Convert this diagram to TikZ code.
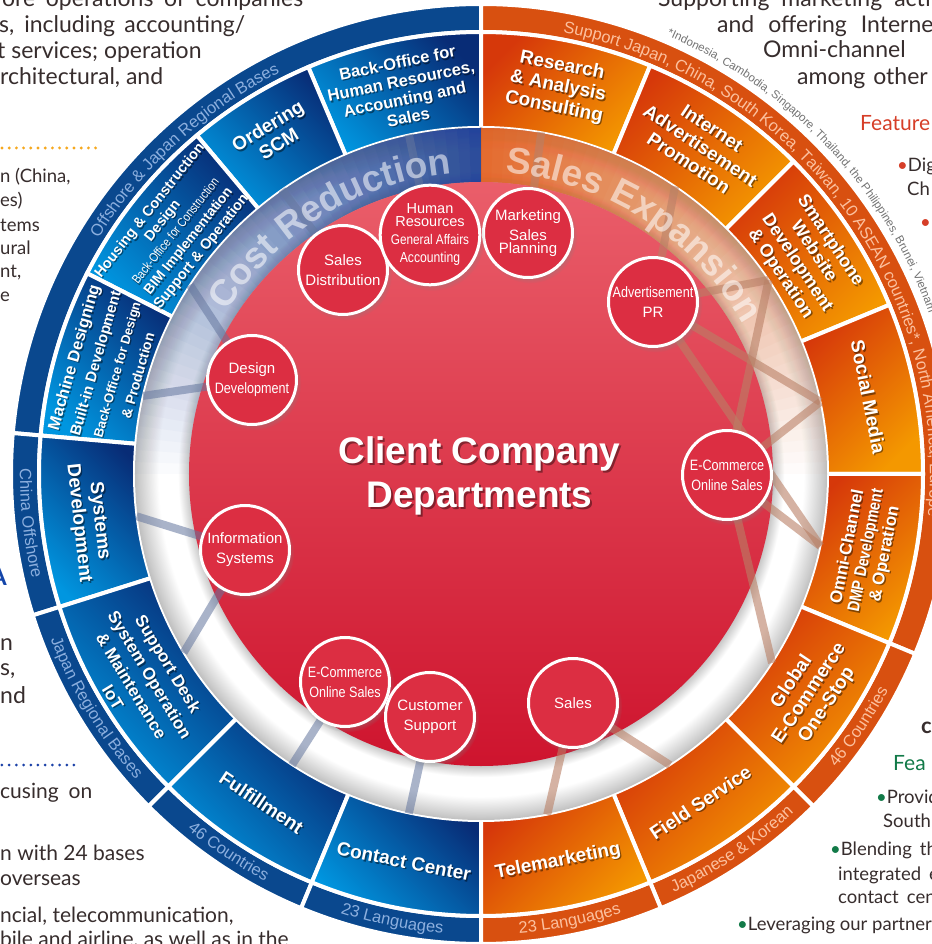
\documentclass[tikz,border=0pt]{standalone}
\usepackage{fontspec}
\setmainfont{Liberation Sans}
\newfontfamily\bodyfont{Lato}
\usepackage{graphicx}
\usetikzlibrary{positioning}
\usetikzlibrary{calc}
\usetikzlibrary{shadows}
\usetikzlibrary{decorations.text}

\definecolor{bblue}{RGB}{0,150,224}
\definecolor{dblue}{RGB}{8,44,118}
\definecolor{bandblue}{RGB}{10,72,142}
\definecolor{bandbluetxt}{RGB}{140,175,222}
\definecolor{rorange}{RGB}{214,56,10}
\definecolor{yorange}{RGB}{244,152,0}
\definecolor{bandorange}{RGB}{216,80,16}
\definecolor{bandorangetxt}{RGB}{252,192,158}
\definecolor{redtop}{RGB}{234,94,106}
\definecolor{redmid}{RGB}{222,54,72}
\definecolor{redbot}{RGB}{206,20,46}
\definecolor{deptred}{RGB}{220,46,66}
\definecolor{linkblue}{RGB}{100,118,158}
\definecolor{linkbrown}{RGB}{185,128,102}
\definecolor{tintblue}{RGB}{30,68,155}
\definecolor{tintorange}{RGB}{228,96,30}
\definecolor{bodytxt}{RGB}{55,45,45}
\definecolor{notegray}{RGB}{115,115,115}
\definecolor{featred}{RGB}{214,62,40}
\definecolor{featgreen}{RGB}{18,122,72}
\definecolor{dotorange}{RGB}{246,168,30}
\definecolor{dotblue}{RGB}{28,66,168}
\definecolor{headblue}{RGB}{20,70,170}

\pgfdeclarelayer{wheel}
\pgfdeclarelayer{links}
\pgfsetlayers{wheel,links,main}

\pgfdeclareradialshading{ringshade}{\pgfpoint{0bp}{0bp}}{color(0bp)=(white); color(20.95bp)=(white); color(21bp)=(black!24); color(21.9bp)=(white); color(23.3bp)=(white); color(24.7bp)=(black!20); color(25bp)=(black!25); color(50bp)=(black!25)}

\newcommand\fsz[2]{\fontsize{#1}{#2}\selectfont}
\newcommand\narrowtxt[1]{\scalebox{0.84}[1]{#1}}
\newcommand\ringsector[4]{(#1:#3) arc[start angle=#1, end angle=#2, radius=#3] -- (#2:#4) arc[start angle=#2, end angle=#1, radius=#4] -- cycle}
\newcommand\bluebandfont{\fsz{16.5}{17}\color{bandbluetxt}}
\newcommand\orangebandfont{\fsz{16.5}{17}\color{bandorangetxt}}
\newcommand\bigarcfont{\bfseries\fsz{37}{37}\color{white}}
\newcommand\notefont{\fsz{11.5}{12}\color{notegray}}
% label with its dark shadow: options, name, angle, radius, text
\newcommand\seglab[5]{%
    \node[seglabel, text=black, text opacity=0.45, xshift=1.3pt, yshift=-1.6pt, #1] (#2shadow) at (#3:#4) {#5};
    \node[seglabel, #1] (#2) at (#3:#4) {#5};}

\begin{document}
\begin{tikzpicture}[x=1pt, y=1pt, auto, thick]
    \tikzstyle{blueband}=[draw=white, line width=4pt, fill=bandblue]
    \tikzstyle{orangeband}=[draw=white, line width=4pt, fill=bandorange]
    \tikzstyle{blueseg}=[draw=white, line width=4pt, left color=bblue, right color=dblue, shading angle=135]
    \tikzstyle{orangeseg}=[draw=white, line width=4pt, left color=rorange, right color=yorange, shading angle=45]
    \tikzstyle{seglabel}=[text=white, align=center, inner sep=0pt, font=\bfseries\fsz{19}{21}]
    \tikzstyle{dept}=[circle, draw=white, line width=3pt, fill=deptred, minimum size=89pt, inner sep=0pt,
                      text=white, align=center, font=\fsz{15}{20},
                      circular drop shadow={shadow xshift=2pt, shadow yshift=-3pt, shadow scale=1.06, opacity=0.45}]
    \tikzstyle{costlink}=[line width=8pt, draw=linkblue, draw opacity=0.55]
    \tikzstyle{saleslink}=[line width=8pt, draw=linkbrown, draw opacity=0.6]
    \tikzstyle{bodytext}=[anchor=base west, inner sep=0pt, text=bodytxt, font=\bodyfont\fsz{23}{26}]
    \tikzstyle{listtext}=[bodytext, font=\bodyfont\fsz{18.5}{22}]
    \tikzstyle{orangedots}=[draw=dotorange, line width=3.2pt, line cap=round, dash pattern=on 0pt off 7.2pt]
    \tikzstyle{bluedots}=[draw=dotblue, line width=3pt, line cap=round, dash pattern=on 0pt off 7.2pt]
    \useasboundingbox (-481,-470) rectangle (450,474);

    \begin{pgfonlayer}{wheel}
        \fill[white] (-481,-470) rectangle (450,474);
        % outer bands
        \foreach \a/\b in {90/175, 175/197.5, 197.5/225, 225/247.5, 247.5/270}
            \filldraw[blueband] \ringsector{\a}{\b}{442}{470};
        \foreach \a/\b in {-22.5/90, -45/-22.5, -67.5/-45, -90/-67.5}
            \filldraw[orangeband] \ringsector{\a}{\b}{442}{470};
        % service segments
        \foreach \a/\b in {90/113, 113/130, 130/153, 153/175, 175/197.5, 197.5/225, 225/247.5, 247.5/270}
            \shadedraw[blueseg] \ringsector{\a}{\b}{346}{442};
        \foreach \a/\b in {67.5/90, 45/67.5, 22.5/45, 0/22.5, -22.5/0, -45/-22.5, -67.5/-45, -90/-67.5}
            \shadedraw[orangeseg] \ringsector{\a}{\b}{346}{442};
        % white ring and its tint
        \shade[shading=ringshade] (0,0) circle (346);
        \foreach \a in {92,94,...,180}{
            \pgfmathsetmacro\op{1-(1-0.88*(182-\a)/90)/(1-0.88*(180-\a)/90)}
            \fill[tintblue, fill opacity=\op] \ringsector{90}{\a}{292}{346};
        }
        \foreach \a in {0,2,...,88}{
            \pgfmathsetmacro\op{1-(1-0.9*(\a+2)/90)/(1-0.9*\a/90)}
            \fill[tintorange, fill opacity=\op] \ringsector{\a}{90}{292}{346};
        }
        \shade[top color=redtop, middle color=redmid, bottom color=redbot] (0,0) circle (292);
    \end{pgfonlayer}

    % segment labels
    \seglab{font=\bfseries\fsz{16.5}{18.5}, rotate=11.5}{backoffice}{101.5}{392}{Back-Office for\\Human Resources,\\Accounting and\\Sales}
    \seglab{rotate=31.5}{ordering}{121.5}{398}{Ordering\\SCM}
    \seglab{font=\bfseries\fsz{14.5}{16.5}, rotate=51.5}{housing}{141.5}{390}
        {Housing \& Construction\\Design\\\mdseries\fsz{12.5}{16.5}\narrowtxt{Back-Office for Construction}\\\bfseries\fsz{14}{17}BIM Implementation\\Support \& Operation}
    \seglab{font=\bfseries\fsz{16.5}{22}, rotate=74}{machine}{164}{391}
        {Machine Designing\\\fsz{15}{23}Built-in Development\\\fsz{13}{19}Back-Office for Design\\\fsz{14}{19}\& Production}
    \foreach \ang/\rot/\name/\txt in {
        187/-83.75/systems/{Systems\\Development},
        236.25/-33.75/fulfillment/Fulfillment,
        258.75/-11.25/contact/Contact Center,
        78.75/-11.25/research/{Research\\\& Analysis\\Consulting},
        56.25/-33.75/internet/{Internet\\Advertisement\\Promotion},
        11.25/-78.75/social/Social Media,
        -33.75/56.25/global/{Global\\E-Commerce\\One-Stop},
        -56.25/33.75/field/Field Service,
        -78.75/11.25/tele/Telemarketing}
        {\seglab{rotate=\rot}{\name}{\ang}{395}{\txt}}
    \seglab{font=\bfseries\fsz{17}{21.5}, rotate=-58.75}{support}{211.25}{398}{Support Desk\\System Operation\\\& Maintenance\\IoT}
    \seglab{font=\bfseries\fsz{18}{20}, rotate=-56.25}{smartphone}{33.75}{390}{Smartphone\\Website\\Development\\\& Operation}
    \seglab{font=\bfseries\fsz{17}{19}, rotate=78.75}{omni}{-11.25}{393}{Omni-Channel\\\narrowtxt{DMP Development}\\\& Operation}

    % outer band texts
    \path[decorate, decoration={text along path, text align=center, text={|\bluebandfont|Offshore {\&} Japan Regional Bases}}] (175:449) arc[start angle=175, end angle=90, radius=449];
    \path[decorate, decoration={text along path, text align=center, text={|\bluebandfont|China Offshore}}] (175:461) arc[start angle=175, end angle=197.5, radius=461];
    \path[decorate, decoration={text along path, text align=center, text={|\bluebandfont|Japan Regional Bases}}] (197.5:461) arc[start angle=197.5, end angle=225, radius=461];
    \path[decorate, decoration={text along path, text align=center, text={|\bluebandfont|46 Countries}}] (225:461) arc[start angle=225, end angle=247.5, radius=461];
    \path[decorate, decoration={text along path, text align=center, text={|\bluebandfont|23 Languages}}] (247.5:461) arc[start angle=247.5, end angle=270, radius=461];
    \path[decorate, decoration={text along path, text={|\orangebandfont|Support Japan, China, South Korea, Taiwan, 10 ASEAN countries*, North America, Europe}}] (79.5:449) arc[start angle=79.5, end angle=-22.5, radius=449];
    \path[decorate, decoration={text along path, text align=center, text={|\orangebandfont|46 Countries}}] (-45:461) arc[start angle=-45, end angle=-22.5, radius=461];
    \path[decorate, decoration={text along path, text align=center, text={|\orangebandfont|Japanese {\&} Korean}}] (-67.5:461) arc[start angle=-67.5, end angle=-45, radius=461];
    \path[decorate, decoration={text along path, text align=center, text={|\orangebandfont|23 Languages}}] (-90:461) arc[start angle=-90, end angle=-67.5, radius=461];
    \path[decorate, decoration={text along path, text={|\notefont|*Indonesia, Cambodia, Singapore, Thailand, the Philippines, Brunei, Vietnam}}] (67:476) arc[start angle=67, end angle=-10, radius=476];

    % client departments
    \foreach \place/\name/\txt in {{(-138,204)/salesdist/{Sales\\Distribution}},
                                   {(47,241)/mkt/{Marketing\\Sales\\[-7pt]Planning}},
                                   {(172,172)/adpr/{\narrowtxt{Advertisement}\\PR}},
                                   {(246,-1)/ecomr/{\narrowtxt{E-Commerce}\\\narrowtxt{Online Sales}}},
                                   {(-229,94)/design/{Design\\\narrowtxt{Development}}},
                                   {(-236,-76)/infosys/{Information\\Systems}},
                                   {(-136,-208)/ecoml/{\narrowtxt{E-Commerce}\\\narrowtxt{Online Sales}}},
                                   {(-51,-243)/custsup/{Customer\\Support}},
                                   {(92,-229)/sales/Sales}}
        \node[dept] (\name) at \place {\txt};
    \node[dept, font=\fsz{14.5}{18}] (hr) at (-51,239) {Human\\[-5pt]Resources\\\fsz{14}{18}\narrowtxt{General Affairs}\\\narrowtxt{Accounting}};

    \node[text=black, text opacity=0.4, font=\bfseries\fsz{37}{44}, align=center] (titleshade) at (0.5,-4) {Client Company\\Departments};
    \node[text=white, font=\bfseries\fsz{37}{44}, align=center] (title) at (-1.5,-2) {Client Company\\Departments};

    \begin{pgfonlayer}{links}
        \foreach \ang/\name in {102/inBack, 125/inOrder, 147/inHousing, 167/inMachine, 187/inSystems, 211/inSupport,
                                237/inFulfil, 258/inContact, 80/inResearch, 56/inInternet, 34/inSmart, 12/inSocial,
                                -12/inOmni, -33/inGlobal, -57/inField, -79/inTele}
            \coordinate (\name) at (\ang:347);
        \foreach \d/\s in {hr/inBack, salesdist/inOrder, design/inHousing, design/inMachine, infosys/inSystems,
                           infosys/inSupport, ecoml/inFulfil, custsup/inContact}
            \draw[costlink] (\d) -- (\s);
        \foreach \d/\s in {mkt/inResearch, adpr/inInternet, adpr/inSmart, adpr/inSocial, adpr/inOmni, ecomr/inSmart,
                           ecomr/inSocial, ecomr/inOmni, ecomr/inGlobal, sales/inField, sales/inTele}
            \draw[saleslink] (\d) -- (\s);
        \begin{scope}[opacity=0.55]
            \path[decorate, decoration={text along path, text align=center, text={|\bigarcfont|Cost Reduction}}] (170:302) arc[start angle=170, end angle=73, radius=302];
            \path[decorate, decoration={text along path, text align=center, text={|\bigarcfont|Sales Expansion}}] (100:302) arc[start angle=100, end angle=15, radius=302];
        \end{scope}
    \end{pgfonlayer}

    % surrounding page text
    \node[bodytext] (pl1) at (-479,467) {\makebox[301pt][s]{ore operations of companies}};
    \node[bodytext] (pl2) at (-482,441) {\makebox[246pt][s]{s, including accounting/}};
    \node[bodytext] (pl3) at (-484,415) {t services; operation};
    \node[bodytext] (pl4) at (-481,389) {rchitectural, and};
    \draw[orangedots] (-479,326) -- (-381,326);
    \foreach \y/\name/\txt in {291/pm1/{n (China,}, 267/pm2/{es)}, 242/pm3/tems, 219/pm4/ural, 196/pm5/{nt,}, 172/pm6/e}
        \node[listtext] (\name) at (-481,\y) {\txt};
    \node[bodytext, text=headblue, font=\bodyfont\bfseries\fsz{24}{26}, anchor=base east] (phead) at (-474,-111) {A};
    \foreach \y/\name/\txt in {-176/pn1/n, -201/pn2/{s,}, -229/pn3/nd}
        \node[bodytext] (\name) at (-481,\y) {\txt};
    \draw[bluedots] (-479,-291) -- (-404,-291);
    \node[bodytext, font=\bodyfont\fsz{21}{24}] (pb1) at (-481,-324) {cusing\hspace{10pt}on};
    \node[bodytext, font=\bodyfont\fsz{21}{24}] (pb2) at (-481,-386) {n with 24 bases};
    \node[bodytext, font=\bodyfont\fsz{21}{24}] (pb3) at (-481,-411) {overseas};
    \node[bodytext, font=\bodyfont\fsz{21}{24}] (pb4) at (-481,-448) {ncial, telecommunication,};
    \node[bodytext, font=\bodyfont\fsz{21}{24}] (pb5) at (-481,-472) {bile and airline, as well as in the};

    \node[bodytext] (pr1) at (177,467) {Supporting\hspace{12pt}marketing\hspace{12pt}acti};
    \node[bodytext] (pr2) at (236,441) {and\hspace{14pt}offering\hspace{14pt}Interne};
    \node[bodytext] (pr3) at (282,416) {Omni-channel};
    \node[bodytext] (pr4) at (316,389) {among\hspace{8pt}other};
    \node[bodytext, text=featred, font=\bodyfont\fsz{21}{24}] (pf1) at (379,343) {Feature};
    \node[listtext] (pf2) at (416,302) {{\color{featred}•}Dig};
    \node[listtext] (pf3) at (426,278) {Ch};
    \node[listtext] (pf4) at (439,245) {{\color{featred}•}};
    \node[bodytext, font=\bodyfont\bfseries\fsz{22}{24}] (pc1) at (440,-259) {c};
    \node[bodytext, text=featgreen, font=\bodyfont\fsz{21}{24}] (pg1) at (412,-296) {Fea};
    \node[listtext] (pg2) at (395,-329) {{\color{featgreen}•}Providi};
    \node[listtext] (pg3) at (402,-353) {South K};
    \node[listtext] (pg4) at (349,-381) {{\color{featgreen}•}Blending\hspace{8pt}the};
    \node[listtext] (pg5) at (357,-406) {integrated\hspace{8pt}e};
    \node[listtext] (pg6) at (357,-429) {contact\hspace{8pt}cent};
    \node[listtext] (pg7) at (256,-456) {{\color{featgreen}•}Leveraging our partnershi};
\end{tikzpicture}
\end{document}
